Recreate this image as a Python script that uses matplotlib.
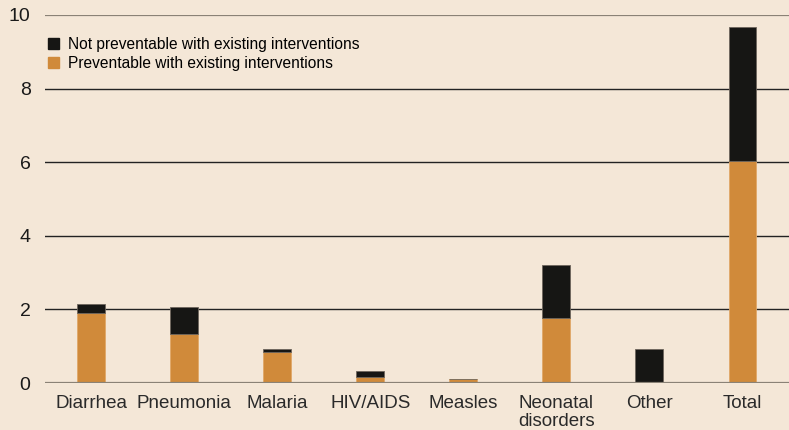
import matplotlib.pyplot as plt
from matplotlib.patches import Patch

categories = ["Diarrhea", "Pneumonia", "Malaria", "HIV/AIDS", "Measles",
              "Neonatal\ndisorders", "Other", "Total"]
preventable = [1.90, 1.33, 0.85, 0.17, 0.12, 1.76, 0.0, 6.04]
not_preventable = [0.24, 0.73, 0.07, 0.16, 0.0, 1.44, 0.92, 3.63]
yticks = [0, 2, 4, 6, 8, 10]

bg = "#f4e7d7"
orange = "#d08a3a"
black = "#161614"

plt.rcParams["font.family"] = ["Liberation Sans", "DejaVu Sans"]

fig = plt.figure(figsize=(7.89, 4.30), dpi=100, facecolor=bg)
ax = fig.add_axes([44.5 / 789, 47 / 430, 1 - 44.5 / 789, 368 / 430])
ax.set_facecolor(bg)

x = range(len(categories))
ax.bar(x, preventable, width=0.3, color=orange, edgecolor="#e0a868",
       linewidth=0.6, zorder=3)
ax.bar(x, not_preventable, bottom=preventable, width=0.3, color=black,
       edgecolor="#6e665c", linewidth=0.6, zorder=3)

for y in yticks:
    edge = y in (0, 10)
    ax.axhline(y, color="#8a8276" if edge else "#222222",
               linewidth=1.6 if edge else 1.0, zorder=4 if y == 0 else 1)

ax.set_xlim(-0.5, 7.5)
ax.set_ylim(0, 10)
ax.set_yticks(yticks)
ax.set_yticklabels([str(v) for v in yticks], fontsize=14, color="#1a1a1a")
ax.set_xticks(list(x))
ax.set_xticklabels(categories, fontsize=13.5, color="#2a2a2a", linespacing=1.05)
ax.tick_params(length=0, axis="y", pad=10)
ax.tick_params(length=0, axis="x", pad=9)
for s in ax.spines.values():
    s.set_visible(False)

handles = [Patch(color=black, label="Not preventable with existing interventions"),
           Patch(color=orange, label="Preventable with existing interventions")]
ax.legend(handles=handles, loc="upper left", bbox_to_anchor=(-0.01, 0.97),
          frameon=False, fontsize=11.2, handlelength=0.7, handleheight=0.7,
          handletextpad=0.6, labelspacing=0.25, borderaxespad=0.3)

fig.savefig("out.png", dpi=100, facecolor=bg)
